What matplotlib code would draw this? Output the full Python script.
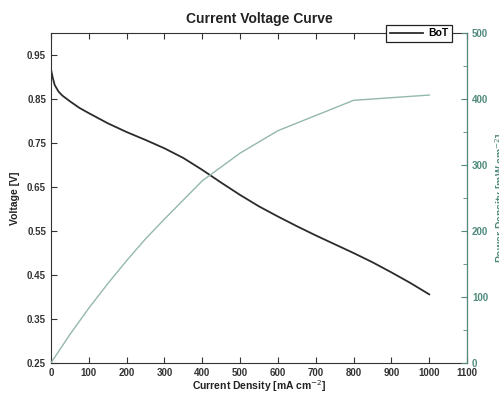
import matplotlib
matplotlib.use("Agg")
from matplotlib import pyplot as plt
from matplotlib.ticker import MultipleLocator

plt.rcParams['font.family'] = ['Liberation Sans', 'DejaVu Sans']

# data kurva tegangan (mA cm-2, V)
arus_v = [0, 5, 10, 20, 30, 50, 75, 100, 150, 200, 250, 300, 350, 400,
          450, 500, 550, 600, 650, 700, 750, 800, 850, 900, 950, 1000]
tegangan = [0.918, 0.898, 0.882, 0.867, 0.858, 0.845, 0.830, 0.818, 0.795,
            0.775, 0.757, 0.738, 0.716, 0.689, 0.660, 0.632, 0.606, 0.583,
            0.561, 0.540, 0.520, 0.500, 0.479, 0.456, 0.432, 0.406]

# data kurva daya (mA cm-2, mW cm-2)
arus_p = [0, 50, 100, 150, 200, 250, 300, 350, 400, 500, 600, 800, 1000]
daya = [0, 43, 83, 120, 155, 188, 218, 247, 276, 318, 352, 398, 406]

hijau = '#4f8a7c'
hijau_garis = '#94b8aa'

fig = plt.figure(figsize=(4.99, 3.93), dpi=100)
ax = fig.add_axes([0.102, 0.0763, 0.834, 0.8397])
ax2 = ax.twinx()

garis, = ax.plot(arus_v, tegangan, color='#2b2b2b', lw=1.3, label='BoT')
ax2.plot(arus_p, daya, color=hijau_garis, lw=1.0)

ax.set_xlim(0, 1100)
ax.set_ylim(0.25, 1.0)
ax2.set_ylim(0, 500)
ax.set_xticks(range(0, 1101, 100))
ax.set_yticks([0.25, 0.35, 0.45, 0.55, 0.65, 0.75, 0.85, 0.95])
ax2.yaxis.set_major_locator(MultipleLocator(100))
ax2.yaxis.set_minor_locator(MultipleLocator(50))

ax.tick_params(axis='both', direction='in', labelsize=7, length=4,
               top=True, colors='#333333')
ax2.tick_params(axis='y', direction='in', labelsize=7, length=4,
                colors=hijau, labelcolor=hijau)
ax2.tick_params(axis='y', which='minor', direction='in', length=3,
                colors=hijau)
for lbl in ax.get_xticklabels() + ax.get_yticklabels() + ax2.get_yticklabels():
    lbl.set_fontweight('bold')

for s in ['left', 'bottom', 'top']:
    ax.spines[s].set_color('#333333')
ax2.spines['right'].set_color(hijau)
ax2.spines['left'].set_visible(False)
ax2.spines['top'].set_visible(False)
ax2.spines['bottom'].set_visible(False)

ax.set_title('Current Voltage Curve', fontsize=10, fontweight='bold',
             color='#222222', pad=7)
ax.set_xlabel('Current Density [mA cm$^{-2}$]', fontsize=7.5,
              fontweight='bold', color='#222222', labelpad=0)
ax.set_ylabel('Voltage [V]', fontsize=7.5, fontweight='bold',
              color='#222222')
ax.yaxis.set_label_coords(-0.075, 0.5)
ax2.set_ylabel('Power Density [mW cm$^{-2}$]', fontsize=7.5,
               fontweight='bold', color=hijau)
ax2.yaxis.set_label_coords(1.062, 0.5)

leg = ax2.legend(handles=[garis], loc='upper right',
                 bbox_to_anchor=(0.906, 0.937), bbox_transform=fig.transFigure,
                 borderaxespad=0, fancybox=False, edgecolor='#222222',
                 framealpha=1, fontsize=7.5, handlelength=3.2,
                 borderpad=0.35, handletextpad=0.5)
leg.get_frame().set_linewidth(0.9)
for t in leg.get_texts():
    t.set_fontweight('bold')

fig.savefig('out.png', dpi=100)
